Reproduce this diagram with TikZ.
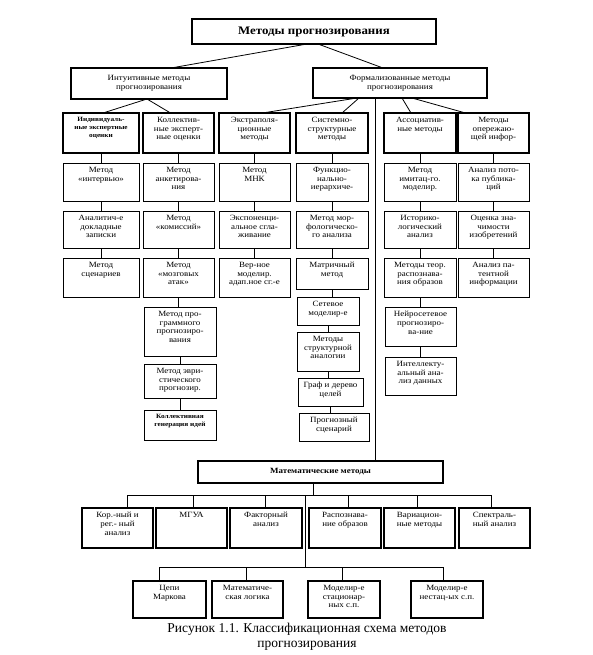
\documentclass[tikz,border=0pt]{standalone}
\usepackage{fontspec}
\setmainfont{Liberation Serif}[FakeStretch=1.12]
\newfontfamily\capfont{Liberation Serif}
\tikzset{
  leaf/.style={draw, line width=0.8pt},
  mleaf/.style={draw, line width=1.1pt},
  hdr/.style={draw, line width=2.2pt},
  lvl/.style={draw, line width=1.8pt},
  conn/.style={line width=0.8pt},
}
% top-aligned box: name, x1, y1, x2, y2, style, text
\newcommand\bxt[7]{\node[#6, anchor=north west, inner sep=0pt, outer sep=0pt] (#1) at (#2,#3)
  {\parbox[c][\dimexpr #5pt-#3pt\relax][t]{\dimexpr #4pt-#2pt\relax}{\centering\fontsize{8}{8.8}\selectfont\vspace*{4pt}#7\par}};}
% centred box
\newcommand\bxc[7]{\node[#6, anchor=north west, inner sep=0pt, outer sep=0pt] (#1) at (#2,#3)
  {\parbox[c][\dimexpr #5pt-#3pt\relax][c]{\dimexpr #4pt-#2pt\relax}{\centering\fontsize{8}{9}\selectfont #7\par}};}
\newcommand\smb{\fontsize{6.5}{8}\selectfont\bfseries}
\begin{document}
\begin{tikzpicture}[x=1pt,y=-1pt]
\useasboundingbox (0,0) rectangle (593,655);
% level 0 and 1
\bxc{title}{192}{19}{436}{44}{lvl}{\fontsize{11.5}{13}\selectfont\bfseries Методы прогнозирования}
\bxc{intu}{71}{68}{227}{99}{lvl}{Интуитивные методы\\ прогнозирования}
\bxc{form}{313}{68}{487}{98}{lvl}{Формализованные методы\\ прогнозирования}
% headers
\bxt{h1}{63}{113}{139}{153}{hdr}{\smb Индивидуаль-\\ные экспертные\\оценки}
\bxt{h2}{143}{113}{214}{153}{hdr}{Коллектив-\\ные эксперт-\\ные оценки}
\bxt{h3}{219}{113}{290}{153}{hdr}{Экстраполя-\\ционные\\методы}
\bxt{h4}{296}{113}{368}{153}{hdr}{Системно-\\структурные\\методы}
\bxt{h5}{384}{113}{456}{153}{hdr}{Ассоциатив-\\ные методы}
\bxt{h6}{458}{113}{529}{153}{hdr}{Методы\\опережаю-\\щей инфор-}
% column 1
\bxt{a1}{63}{163}{139}{201}{leaf}{Метод\\«интервью»}
\bxt{a2}{63}{211}{139}{248}{leaf}{Аналитич-е\\докладные\\записки}
\bxt{a3}{63}{258}{139}{297}{leaf}{Метод\\сценариев}
% column 2
\bxt{b1}{143}{163}{214}{201}{leaf}{Метод\\анкетирова-\\ния}
\bxt{b2}{143}{211}{214}{248}{leaf}{Метод\\«комиссий»}
\bxt{b3}{143}{258}{214}{297}{leaf}{Метод\\«мозговых\\атак»}
\bxt{b4}{144}{307}{216}{356}{leaf}{Метод про-\\граммного\\прогнозиро-\\вания}
\bxt{b5}{144}{364}{216}{398}{leaf}{Метод эври-\\стического\\прогнозир.}
\bxt{b6}{144}{410}{216}{440}{leaf}{\smb Коллективная\\генерация идей}
% column 3
\bxt{c1}{219}{163}{290}{201}{leaf}{Метод\\МНК}
\bxt{c2}{219}{211}{290}{248}{leaf}{Экспоненци-\\альное сгла-\\живание}
\bxt{c3}{219}{258}{290}{297}{leaf}{Вер-ное\\моделир.\\адап.ное сг.-е}
% column 4
\bxt{d1}{296}{163}{368}{201}{leaf}{Функцио-\\нально-\\иерархиче-}
\bxt{d2}{296}{211}{368}{248}{leaf}{Метод мор-\\фологическо-\\го анализа}
\bxt{d3}{296}{258}{368}{289}{leaf}{Матричный\\метод}
\bxt{d4}{297}{297}{359}{325}{leaf}{Сетевое\\моделир-е}
\bxt{d5}{297}{332}{359}{371}{leaf}{Методы\\структурной\\аналогии}
\bxt{d6}{298}{378}{363}{406}{leaf}{Граф и дерево\\целей}
\bxt{d7}{299}{413}{369}{441}{leaf}{Прогнозный\\сценарий}
% column 5
\bxt{e1}{384}{163}{456}{201}{leaf}{Метод\\имитац-го.\\моделир.}
\bxt{e2}{384}{211}{456}{248}{leaf}{Историко-\\логический\\анализ}
\bxt{e3}{384}{258}{456}{297}{leaf}{Методы теор.\\распознава-\\ния образов}
\bxt{e4}{385}{307}{456}{346}{leaf}{Нейросетевое\\прогнозиро-\\ва-ние}
\bxt{e5}{385}{357}{456}{395}{leaf}{Интеллекту-\\альный ана-\\лиз данных}
% column 6
\bxt{f1}{458}{163}{529}{201}{leaf}{Анализ пото-\\ка публика-\\ций}
\bxt{f2}{458}{211}{529}{248}{leaf}{Оценка зна-\\чимости\\изобретений}
\bxt{f3}{458}{258}{529}{297}{leaf}{Анализ па-\\тентной\\информации}
% mathematical methods
\bxc{math}{198}{461}{443}{483}{lvl}{\bfseries Математические методы}
\bxt{m1}{82}{508}{153}{548}{mleaf}{Кор.-ный и\\рег.- ный\\анализ}
\bxt{m2}{156}{508}{227}{548}{mleaf}{МГУА}
\bxt{m3}{230}{508}{302}{548}{mleaf}{Факторный\\анализ}
\bxt{m4}{309}{508}{381}{548}{mleaf}{Распознава-\\ние образов}
\bxt{m5}{384}{508}{455}{548}{mleaf}{Вариацион-\\ные методы}
\bxt{m6}{459}{508}{530}{548}{mleaf}{Спектраль-\\ный анализ}
\bxt{l1}{133}{581}{206}{618}{mleaf}{Цепи\\Маркова}
\bxt{l2}{212}{581}{283}{618}{mleaf}{Математиче-\\ская логика}
\bxt{l3}{308}{581}{380}{618}{mleaf}{Моделир-е\\стационар-\\ных с.п.}
\bxt{l4}{411}{581}{483}{618}{mleaf}{Моделир-е\\нестац-ых с.п.}
% caption
\node[align=center, font=\capfont\fontsize{13.5}{15}\selectfont, inner sep=0pt] (cap) at (307,637)
  {Рисунок 1.1. Классификационная схема методов\\прогнозирования};
% connectors: top levels
\draw[conn] ([xshift=-7pt]title.south) -- ([xshift=22pt]intu.north);
\draw[conn] ([xshift=4pt]title.south) -- ([xshift=-17pt]form.north);
\draw[conn] ([xshift=-2pt]intu.south) -- ([xshift=2pt]h1.north);
\draw[conn] ([xshift=-2pt]intu.south) -- ([xshift=-8pt]h2.north);
\draw[conn] ([xshift=-43pt]form.south) -- ([xshift=8pt]h3.north);
\draw[conn] ([xshift=-41pt]form.south) -- ([xshift=10pt]h4.north);
\draw[conn] ([xshift=2pt]form.south) -- ([xshift=-9pt]h5.north);
\draw[conn] ([xshift=12pt]form.south) -- ([xshift=-28pt]h6.north);
\coordinate (fv) at ([xshift=-25pt]form.south);
\draw[conn] (fv) -- (fv |- math.north);
% column connectors
\foreach \u/\v in {h1/a1,a1/a2,a2/a3,h2/b1,b1/b2,b2/b3,b3/b4,b4/b5,b5/b6,
                   h3/c1,c1/c2,c2/c3,h4/d1,d1/d2,d2/d3,d3/d4,d4/d5,d5/d6,d6/d7,
                   h5/e1,e1/e2,e2/e3,e3/e4,e4/e5,h6/f1,f1/f2,f2/f3}
  \draw[conn] (\u.south) -- (\u.south |- \v.north);
% math bus
\coordinate (md) at ([xshift=-7.5pt]math.south);
\coordinate (busL) at (127,495);
\coordinate (busR) at (491,495);
\draw[conn] (md) -- (md |- busL);
\draw[conn] (busL) -- (busR);
\coordinate (q1) at (127,495); \coordinate (q2) at (193,495); \coordinate (q3) at (265,495);
\coordinate (q4) at (348,495); \coordinate (q5) at (417,495); \coordinate (q6) at (491,495);
\draw[conn] (q1) -- (q1 |- m1.north);
\draw[conn] (q2) -- (q2 |- m2.north);
\draw[conn] (q3) -- (q3 |- m3.north);
\draw[conn] (q4) -- (q4 |- m4.north);
\draw[conn] (q5) -- (q5 |- m5.north);
\draw[conn] (q6) -- (q6 |- m6.north);
% lower bus
\coordinate (lv) at (305,495);
\coordinate (lbL) at (159,567);
\coordinate (lbR) at (443,567);
\draw[conn] (lv) -- (lv |- lbL);
\draw[conn] (lbL) -- (lbR);
\coordinate (p1) at (159,567); \coordinate (p2) at (246,567);
\coordinate (p3) at (342,567); \coordinate (p4) at (443,567);
\draw[conn] (p1) -- (p1 |- l1.north);
\draw[conn] (p2) -- (p2 |- l2.north);
\draw[conn] (p3) -- (p3 |- l3.north);
\draw[conn] (p4) -- (p4 |- l4.north);
\end{tikzpicture}
\end{document}
